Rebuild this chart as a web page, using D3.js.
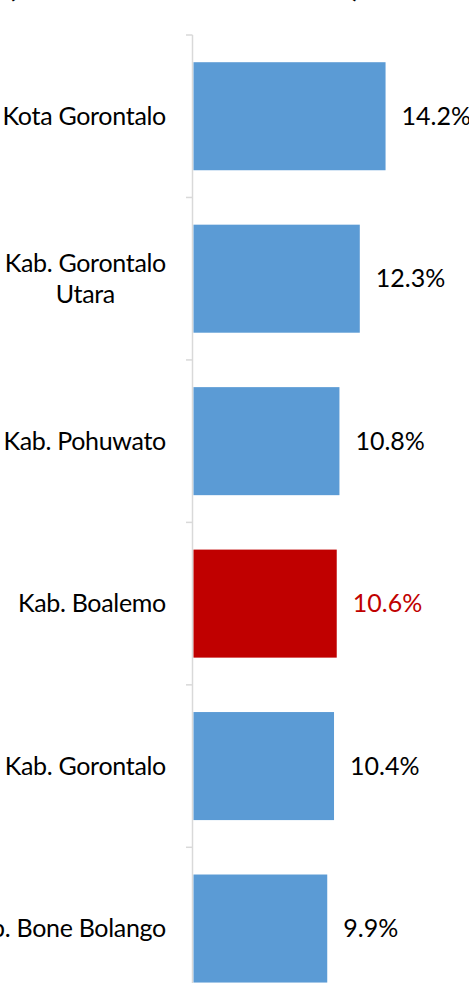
<!DOCTYPE html>
<html><head><meta charset="utf-8">
<script src="https://cdn.jsdelivr.net/npm/d3@7"></script>
<style>html,body{margin:0;padding:0;background:#fff;}svg{display:block;}</style>
</head><body>
<svg id="c" width="469" height="983"></svg>
<script>
const categories = ["Kota Gorontalo", "Kab. Gorontalo\nUtara", "Kab. Pohuwato", "Kab. Boalemo", "Kab. Gorontalo", "Kab. Bone Bolango"];
const values = [14.2, 12.3, 10.8, 10.6, 10.4, 9.9];
const highlight = [false, false, false, true, false, false];
const valueLabels = ["14.2%", "12.3%", "10.8%", "10.6%", "10.4%", "9.9%"];

(function () {
const svg = d3.select("#c");
const font = "Lato, 'Noto Sans', sans-serif";
const axisX = 193;
const plotTop = 35;
const step = 162.46;
const idx = categories.map((d, i) => i);

const x = d3.scaleLinear().domain([0, 16]).range([axisX, axisX + 16 * 13.56]);
const y = d3.scaleBand().domain(idx).range([plotTop, plotTop + step * categories.length])
  .paddingInner(0.335).paddingOuter(0.1675);

// title fragments (cut off at top)
svg.append("text").attr("x", 8).attr("y", -3).attr("font-family", font).attr("font-weight", "bold")
  .attr("font-size", 28).attr("fill", "#000").text("(");
svg.append("text").attr("x", 352).attr("y", -3).attr("font-family", font).attr("font-weight", "bold")
  .attr("font-size", 28).attr("fill", "#000").text(")");

// axis line
svg.append("line").attr("x1", axisX - 0.5).attr("x2", axisX - 0.5)
  .attr("y1", plotTop).attr("y2", plotTop + step * categories.length)
  .attr("stroke", "#d9d9d9").attr("stroke-width", 1.5);
// ticks at band boundaries
const bounds = idx.map(i => y(i) - y.step() * y.paddingInner() / 2).concat([y(idx.length - 1) + y.bandwidth() + y.step() * y.paddingInner() / 2]);
svg.selectAll("line.tick").data(bounds).enter().append("line")
  .attr("x1", axisX - 7).attr("x2", axisX - 0.5)
  .attr("y1", d => d).attr("y2", d => d)
  .attr("stroke", "#d9d9d9").attr("stroke-width", 1.5);

// bars
svg.selectAll("rect.bar").data(idx).enter().append("rect")
  .attr("x", x(0) + 0.5).attr("y", i => y(i))
  .attr("width", i => x(values[i]) - x(0) - 0.5)
  .attr("height", y.bandwidth())
  .attr("fill", i => highlight[i] ? "#c00000" : "#5b9bd5");

// value labels
svg.selectAll("text.val").data(idx).enter().append("text")
  .attr("x", i => x(values[i]) + 16)
  .attr("y", i => y(i) + y.bandwidth() / 2)
  .attr("dy", "0.35em")
  .attr("font-family", font).attr("font-size", 25)
  .attr("fill", i => highlight[i] ? "#c00000" : "#000")
  .text(i => valueLabels[i]);

// category labels
const labelRight = 166;
const lineH = 31.6;
idx.forEach(i => {
  const lines = categories[i].split("\n");
  const g = svg.append("g");
  const cy = y(i) + y.bandwidth() / 2;
  const texts = lines.map((ln, k) => g.append("text")
    .attr("y", cy + (k - (lines.length - 1) / 2) * lineH)
    .attr("dy", "0.35em")
    .attr("font-family", font).attr("font-size", 25).attr("fill", "#000")
    .attr("letter-spacing", "-0.3px")
    .attr("text-anchor", "middle").text(ln));
  const maxW = d3.max(texts, t => t.node().getComputedTextLength());
  texts.forEach(t => t.attr("x", labelRight - maxW / 2));
});
})();
</script>
</body></html>
